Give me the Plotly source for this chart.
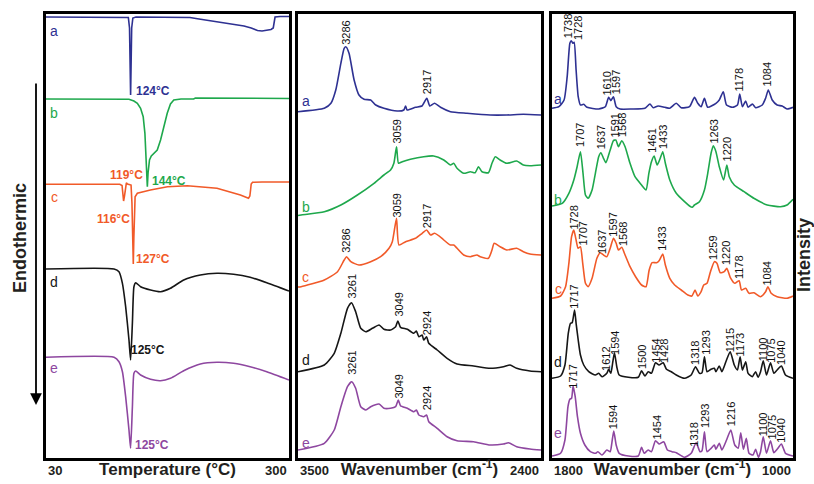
import plotly.graph_objects as go

FONT = "Liberation Sans, Arial, Helvetica, sans-serif"
W, H = 814, 484

# colours of the five samples a-e
col_a, col_b, col_c, col_d, col_e = "#2e3192", "#1ea84c", "#f15a29", "#161616", "#8e47a0"

# ---------------- DSC (temperature, stacked heat flow, arbitrary units) ----------------
dsc_a_T = [30, 110, 121.5, 122.8, 123.6, 124, 124.4, 125.2, 126.5, 130, 160, 190, 200, 215, 235, 250, 258, 265, 270, 275, 280, 282.5, 283.5, 284.5, 290, 300]
dsc_a_y = [441, 441, 440.5, 430, 385, 363, 385, 430, 440, 441, 441, 440.5, 439, 437, 434.5, 432, 430, 427.5, 427, 427.5, 428.5, 430, 436, 441, 441.5, 441.5]

dsc_b_T = [30, 122.2, 127.7, 131.5, 135.1, 138, 139.9, 141.4, 142.6, 143.4, 145, 147, 150, 153.6, 157.3, 160.9, 164.7, 168.3, 172, 180, 194, 196, 300]
dsc_b_y = [359, 358.7, 357, 354.7, 349.7, 341.3, 324.7, 301.3, 271.3, 285, 298, 302, 305, 308, 318, 331.3, 344.7, 354, 358, 359, 359, 360, 359.5]

dsc_c_T = [30, 112, 114.5, 115.3, 116.2, 117.2, 118.3, 119.3, 120.5, 122.5, 124.5, 125.5, 126.3, 127, 127.6, 128.3, 129, 131.5, 146, 165, 187, 220, 246, 255, 256.5, 257.3, 258, 259.5, 270, 300]
dsc_c_y = [273.7, 273.7, 272.5, 266, 257, 262, 271, 275.2, 274, 273.7, 273, 255, 220, 194, 220, 250, 261.3, 264.7, 268, 271.3, 272.3, 269.7, 263, 259.7, 262, 268, 274, 275.7, 276, 276]

dsc_de_T = [30, 105.6, 111.1, 114.9, 118.5, 122.2, 124, 126, 127.7, 129.6, 135.1, 146.2, 157.3, 168.3, 183, 201.5, 220, 238.4, 256.8, 275.3, 300]
dsc_d_y = [189, 189, 186.3, 174.7, 151.3, 118, 98, 135, 171.3, 175.3, 171.3, 168, 166.3, 169.7, 178, 183, 184.7, 183.7, 180.7, 175.3, 167]
dsc_e_y = [100.7, 100.7, 96.3, 86.3, 61.3, 28, 9.7, 51.3, 84.7, 87, 83, 78.7, 77.3, 79.7, 87.3, 94, 95.7, 94.7, 91.3, 86.3, 78]

# ---------------- FTIR 3500-2400 cm-1 ----------------
ir1_a_wn = [3500, 3381, 3351, 3329, 3306, 3291, 3283, 3269, 3246, 3224, 3201, 3171, 3148, 3111, 3051, 3021, 3013, 3006, 2968, 2939, 2917, 2903, 2882, 2855, 2810, 2735, 2630, 2555, 2480, 2400]
ir1_a_y = [346.3, 349.7, 354.7, 368, 394.7, 409.7, 411.3, 404.7, 378, 363, 358.7, 358, 353, 349.7, 347, 348, 352, 348, 350.7, 352, 359.7, 352, 354.7, 350.7, 346.3, 344.7, 343, 343, 343.7, 343]

ir1_b_wn = [3500, 3486, 3381, 3306, 3231, 3156, 3111, 3081, 3066, 3054, 3045, 3028, 2991, 2931, 2886, 2840, 2810, 2795, 2780, 2750, 2720, 2698, 2683, 2667, 2638, 2622, 2607, 2585, 2555, 2510, 2480, 2450, 2400]
ir1_b_y = [242.5, 243, 246.3, 253, 263, 274.7, 283, 288, 294.7, 311.3, 294.7, 296.3, 298.7, 301.3, 302, 298, 293, 294.7, 289.7, 284.7, 286.3, 285.3, 291.3, 286.3, 285.3, 294.7, 301.3, 298, 294.7, 297, 293, 292.3, 293]

ir1_c_wn = [3500, 3486, 3381, 3321, 3291, 3280, 3261, 3224, 3171, 3126, 3088, 3073, 3066, 3054, 3043, 3013, 2968, 2938, 2918, 2900, 2882, 2848, 2840, 2810, 2795, 2780, 2750, 2720, 2690, 2675, 2638, 2622, 2612, 2585, 2555, 2510, 2480, 2450, 2400]
ir1_c_y = [171, 171.3, 178, 186.3, 198, 201.3, 196.3, 193, 196.3, 201.3, 209.7, 216.3, 224.7, 239.7, 213, 216.3, 219.7, 224.7, 228, 223, 224.7, 219.7, 218, 213, 213, 209.7, 203, 201.3, 203, 201.3, 199.7, 208, 214.7, 211.3, 208, 209.7, 206.3, 204, 203]

ir1_d_wn = [3500, 3381, 3336, 3306, 3276, 3258, 3239, 3216, 3193, 3163, 3133, 3111, 3081, 3058, 3048, 3036, 3005, 2976, 2964, 2953, 2938, 2931, 2918, 2908, 2870, 2825, 2780, 2705, 2630, 2570, 2540, 2510, 2450, 2400]
ir1_d_y = [86.3, 93, 104.7, 124.7, 149.7, 155.3, 146.3, 129.7, 126.3, 129.7, 133, 128.7, 128, 131.3, 137, 130.7, 128.7, 124.7, 127, 121.3, 123, 118, 121.3, 114.7, 108, 99.7, 94, 92, 89.7, 91.3, 93, 89.7, 87, 86.3]

ir1_e_wn = [3500, 3381, 3336, 3306, 3276, 3257, 3239, 3216, 3193, 3171, 3133, 3111, 3081, 3058, 3046, 3036, 3005, 2976, 2964, 2953, 2931, 2918, 2908, 2870, 2825, 2780, 2705, 2630, 2570, 2547, 2510, 2450, 2400]
ir1_e_y = [8, 14.7, 28, 51.3, 71.3, 76.3, 69.7, 51.3, 48, 51.3, 54, 49.7, 49.7, 51.3, 58, 52.3, 49.7, 46.3, 48, 43, 41.3, 43, 36.3, 29.7, 21.3, 17.3, 16.3, 13, 14, 15.3, 11.3, 9, 8]

# ---------------- FTIR 1800-1000 cm-1 ----------------
ir2_a_wn = [1800, 1777, 1760, 1749.6, 1740.7, 1736, 1731, 1726.5, 1720, 1713, 1705.6, 1694.7, 1683.8, 1645, 1623, 1612, 1604.7, 1596, 1587, 1574, 1535.6, 1491.6, 1475, 1464, 1447.8, 1425.7, 1409, 1387.5, 1371, 1343.4, 1327, 1316, 1305, 1294, 1283, 1255.8, 1244.7, 1231.5, 1220.6, 1200.9, 1184.4, 1176.8, 1168, 1157, 1149, 1135, 1124, 1102, 1091, 1082, 1069, 1052.7, 1036, 1019.8, 1000]
ir2_a_y = [349.7, 351.3, 358, 381.3, 414.7, 417.3, 414.7, 415.7, 388, 361.3, 353, 353.7, 350.7, 349, 351.3, 360.7, 357.3, 361.3, 351.3, 349, 349, 349.7, 354, 350.3, 352, 350.7, 349.7, 354.7, 350.3, 351.3, 360.7, 354.7, 351.3, 359.7, 350.7, 354.7, 358, 366.3, 353, 350.7, 353, 364, 351.3, 357, 350.7, 354, 350.3, 353, 359.7, 368, 358, 353, 352, 349, 350.7]

ir2_b_wn = [1800, 1766, 1744, 1727.6, 1716.6, 1705.6, 1697, 1689, 1680, 1667, 1656, 1645, 1637.7, 1629, 1621, 1606.8, 1596, 1588, 1579.4, 1568.5, 1557.4, 1541, 1524.5, 1502.7, 1488, 1478.5, 1469.8, 1461, 1451, 1442, 1432.3, 1423.7, 1409, 1387.5, 1360, 1343.4, 1334.8, 1327, 1310.5, 1294, 1283, 1272, 1264.4, 1255.8, 1244.7, 1230.5, 1219.6, 1211.7, 1195, 1162.4, 1130, 1085.6, 1041.8, 1019.8, 1000]
ir2_b_y = [252, 254.7, 264.7, 278, 291.3, 306.3, 284.7, 263, 259.7, 268, 284.7, 301.3, 305.3, 299.7, 295.3, 308, 317.3, 318, 311.3, 317.3, 311.3, 294.7, 281.3, 273, 268, 284.7, 296.3, 302, 293, 298.7, 306.3, 294.7, 278, 264.7, 256.3, 252, 250.7, 253, 256.3, 268, 284.7, 304.7, 312.3, 306.3, 291.3, 278, 293, 281.3, 273, 266.3, 259.7, 253, 251.3, 253, 258.7]

ir2_c_wn = [1800, 1771.5, 1755, 1744, 1735, 1727.6, 1720, 1713.4, 1705.6, 1698, 1689, 1680, 1667, 1651, 1640, 1629, 1618, 1606.8, 1596, 1587, 1579.4, 1568.5, 1557.4, 1541, 1522.5, 1502.7, 1488, 1477.4, 1467.5, 1453, 1444.5, 1432.3, 1423.7, 1409, 1392.8, 1371, 1349, 1335.8, 1325, 1316, 1305, 1296.3, 1285.4, 1274, 1261, 1252.5, 1241.4, 1228.2, 1219.6, 1208.4, 1193.3, 1178.8, 1171, 1157, 1146, 1129.5, 1107.7, 1091, 1083.3, 1072.5, 1052.7, 1019.8, 1000]
ir2_c_y = [159.7, 162, 171.3, 194.7, 221.3, 228, 218, 209.7, 211.3, 194.7, 174.7, 171.3, 179.7, 199.7, 205.3, 203, 201.3, 209.7, 219.7, 214.7, 208, 210.7, 203, 191.3, 181.3, 173, 171.3, 188, 195.3, 195.3, 197.3, 204, 193, 179.7, 173, 168, 163, 162, 168, 162, 166.3, 173, 174.7, 186.3, 196.3, 194.7, 185.3, 186.3, 189.7, 180.7, 174.7, 177.3, 168, 169.7, 164.7, 165.3, 161.3, 166.3, 171.3, 164.7, 161.3, 159.7, 162]

ir2_d_wn = [1800, 1771.5, 1757, 1746, 1738.5, 1733, 1725, 1720, 1713, 1705.6, 1694.7, 1678, 1656, 1645, 1634, 1618, 1612, 1604.7, 1598, 1592.6, 1585, 1577, 1546.5, 1513.6, 1502.7, 1491.6, 1480.7, 1469.8, 1456.5, 1444.5, 1431, 1420, 1404, 1387.5, 1360, 1338, 1323.6, 1310.5, 1302, 1294, 1285.4, 1272, 1261, 1255.8, 1244.7, 1236, 1222.8, 1208.4, 1195, 1184.4, 1175.5, 1168, 1157, 1149, 1135, 1124, 1116, 1107.7, 1098.8, 1088, 1074.7, 1063.6, 1052.7, 1038.5, 1025, 1000]
ir2_d_y = [79.7, 82, 93, 124.7, 134.7, 135.3, 148, 134.7, 118, 103, 93, 86.3, 83, 84.7, 81.3, 84.7, 88.7, 84.7, 96.3, 105.3, 91.3, 83, 80.7, 80.7, 87.3, 82, 86.3, 84.7, 95.3, 93, 95.3, 88.7, 86.3, 83, 79.7, 83, 91.3, 84.7, 85.3, 101.3, 86.3, 88.7, 89.7, 86.3, 92, 86.3, 96.3, 106.3, 93, 88, 101.3, 88, 96.3, 84.7, 81.3, 86.3, 80.7, 86.3, 97.3, 83, 95.3, 84.7, 88, 92, 83, 79.7]

ir2_e_wn = [1800, 1771.5, 1757, 1747, 1740.7, 1735, 1730, 1723, 1715.5, 1705.6, 1691, 1672.6, 1656, 1647.6, 1634, 1618, 1606.8, 1601.5, 1595, 1587, 1577, 1546.5, 1513.6, 1502.7, 1494, 1480.7, 1469.8, 1456.5, 1444.5, 1429, 1417, 1401.7, 1387.5, 1360, 1338, 1321.6, 1308.5, 1302, 1294, 1285.4, 1272, 1261, 1255.8, 1244.7, 1236, 1220.6, 1206.5, 1193.3, 1182, 1173.4, 1164.6, 1155, 1146, 1132.8, 1124, 1115, 1107.7, 1098.8, 1088, 1074.7, 1063.6, 1052.7, 1038.5, 1025, 1000]
ir2_e_y = [2, 4.7, 18, 51.3, 58.7, 59.7, 72, 61.3, 41.3, 24.7, 13, 6.3, 4.7, 6.3, 3, 8, 6.3, 14.7, 27, 13, 4.7, 2, 2, 10.7, 4.7, 8, 6.3, 17.3, 14, 16.3, 8, 6.3, 5.3, 0.7, 4.7, 15.3, 6.3, 7.3, 26.3, 6.3, 9.7, 13, 8.7, 14.7, 8, 18, 28, 13, 9.7, 25.3, 8.7, 19.7, 4.7, 3, 8.7, 0.7, 6.3, 21.3, 4.7, 17.3, 5.3, 8.7, 14, 4.7, 2]

# ---------------- labels ----------------
dsc_peak_text = ["124°C", "144°C", "119°C", "116°C", "127°C", "125°C", "125°C"]
dsc_peak_T = [149.2, 167.2, 119.6, 105.2, 149, 143.4, 148.1]
dsc_peak_y = [367.5, 277.5, 283, 239.5, 199, 108, 13]
dsc_peak_col = [col_a, col_b, col_c, col_c, col_c, col_d, col_e]

ir1_lab_text = ["3286", "2917", "3059", "3286", "3059", "2917", "3261", "3049", "2924", "3261", "3049", "2924"]
ir1_lab_wn = [3283.6, 2915.3, 3053.7, 3283.6, 3053.7, 2915.3, 3256.6, 3044.7, 2915.3, 3256.6, 3044.7, 2915.3]
ir1_lab_y = [425, 376, 326, 217, 252, 242, 171.3, 153, 135, 95, 71, 60]

ir2_lab_text = ["1738", "1728", "1610", "1597", "1178", "1084",
                "1707", "1637", "1591", "1568", "1461", "1433", "1263", "1220",
                "1728", "1707", "1637", "1597", "1568", "1433", "1259", "1220", "1178", "1084",
                "1717", "1612", "1594", "1500", "1454", "1428", "1318", "1293", "1215", "1173", "1100", "1075", "1040",
                "1717", "1594", "1454", "1318", "1293", "1216", "1100", "1075", "1040"]
ir2_lab_wn = [1746.3, 1713.4, 1619, 1589.3, 1180.5, 1085.6,
              1706.8, 1638, 1591.6, 1567.3, 1468.5, 1433.6, 1262.8, 1218.3,
              1729.9, 1698.6, 1636, 1595.9, 1564.6, 1433, 1263.4, 1220, 1180.5, 1085.6,
              1726.6, 1621.6, 1592.6, 1502.7, 1455, 1427.4, 1327, 1291.4, 1210.7, 1175.2, 1099.5, 1073.1, 1041.8,
              1730.3, 1598.6, 1451.7, 1327, 1291.4, 1205.8, 1099.5, 1069.8, 1040.2]
ir2_lab_y = [432, 430, 374, 376.3, 378, 383.8,
             323, 320.5, 332.2, 333, 317.2, 321.3, 326.3, 308.8,
             240.5, 224, 216.3, 233.8, 223.8, 218.8, 209.7, 204.7, 190.5, 184.7,
             161.3, 98.8, 115.5, 100.5, 107.2, 107.2, 105.5, 115.5, 117.2, 113.8, 108.8, 107.2, 105.5,
             81.3, 40.5, 30.5, 23.8, 42.2, 43.8, 33.8, 30.5, 27.2]

letters = ["a", "b", "c", "d", "e"]
letter_cols = [col_a, col_b, col_c, col_d, col_e]
letter_y_dsc = [427, 345, 261, 176, 90]
letter_y_ir1 = [357, 251, 181, 98, 15]
letter_y_ir2 = [359, 258, 169, 96, 25]

# ---------------- figure ----------------
for xs, ys in [(dsc_a_T, dsc_a_y), (dsc_b_T, dsc_b_y), (dsc_c_T, dsc_c_y), (dsc_de_T, dsc_d_y), (dsc_de_T, dsc_e_y),
               (ir1_a_wn, ir1_a_y), (ir1_b_wn, ir1_b_y), (ir1_c_wn, ir1_c_y), (ir1_d_wn, ir1_d_y), (ir1_e_wn, ir1_e_y),
               (ir2_a_wn, ir2_a_y), (ir2_b_wn, ir2_b_y), (ir2_c_wn, ir2_c_y), (ir2_d_wn, ir2_d_y), (ir2_e_wn, ir2_e_y)]:
    assert len(xs) == len(ys), (len(xs), len(ys))

fig = go.Figure()
LW = 1.6

def add(x, y, col, ax, shape="spline"):
    fig.add_trace(go.Scatter(x=x, y=y, mode="lines", xaxis="x" + ax, yaxis="y" + ax,
                             line=dict(color=col, width=LW, shape=shape, smoothing=0.55),
                             hoverinfo="skip", showlegend=False))

add(dsc_a_T, dsc_a_y, col_a, "", "linear")
add(dsc_b_T, dsc_b_y, col_b, "", "linear")
add(dsc_c_T, dsc_c_y, col_c, "", "linear")
add(dsc_de_T, dsc_d_y, col_d, "")
add(dsc_de_T, dsc_e_y, col_e, "")
for (x, y), c in zip([(ir1_a_wn, ir1_a_y), (ir1_b_wn, ir1_b_y), (ir1_c_wn, ir1_c_y), (ir1_d_wn, ir1_d_y), (ir1_e_wn, ir1_e_y)], letter_cols):
    add(x, y, c, "2")
for (x, y), c in zip([(ir2_a_wn, ir2_a_y), (ir2_b_wn, ir2_b_y), (ir2_c_wn, ir2_c_y), (ir2_d_wn, ir2_d_y), (ir2_e_wn, ir2_e_y)], letter_cols):
    add(x, y, c, "3")

X_DOM = [[46 / W, 289 / W], [298 / W, 541 / W], [552 / W, 793 / W]]
Y_DOM = [1 - 458 / H, 1 - 14 / H]
X_RNG = [[30, 300], [3500, 2400], [1800, 1000]]
TXT = "#231f20"
titles = ["<b>Temperature (°C)</b>", "<b>Wavenumber (cm<sup>-1</sup>)</b>", "<b>Wavenumber (cm<sup>-1</sup>)</b>"]

layout = dict(width=W, height=H, margin=dict(l=0, r=0, t=0, b=0),
              paper_bgcolor="white", plot_bgcolor="white",
              font=dict(family=FONT, color=TXT), showlegend=False)
for i in range(3):
    s = "" if i == 0 else str(i + 1)
    layout["xaxis" + s] = dict(domain=X_DOM[i], range=X_RNG[i], anchor="y" + s,
                               showline=True, mirror=True, linewidth=3, linecolor="black",
                               showticklabels=False, ticks="", showgrid=False, zeroline=False,
                               title=dict(text=titles[i], font=dict(size=17, family=FONT, color=TXT), standoff=4))
    layout["yaxis" + s] = dict(domain=Y_DOM, range=[0, 444], anchor="x" + s,
                               showline=True, mirror=True, linewidth=3, linecolor="black",
                               showticklabels=False, ticks="", showgrid=False, zeroline=False)
fig.update_layout(**layout)

ann = []
# corner tick labels
tick_y = 1 - 470 / H
for i, (lo, hi) in enumerate(X_RNG):
    s = "x" if i == 0 else "x" + str(i + 1)
    ann.append(dict(text="<b>%g</b>" % lo, x=lo, xref=s, y=tick_y, yref="paper", xanchor="left", yanchor="middle",
                    showarrow=False, font=dict(size=13, color=TXT)))
    ann.append(dict(text="<b>%g</b>" % hi, x=hi, xref=s, y=tick_y, yref="paper", xanchor="right", yanchor="middle",
                    showarrow=False, font=dict(size=13, color=TXT)))

# DSC temperature labels
for t, xv, yv, c in zip(dsc_peak_text, dsc_peak_T, dsc_peak_y, dsc_peak_col):
    ann.append(dict(text="<b>%s</b>" % t, x=xv, y=yv, xref="x", yref="y", showarrow=False,
                    font=dict(size=12, color=c), xanchor="center", yanchor="middle"))
# FTIR peak labels
for t, xv, yv in zip(ir1_lab_text, ir1_lab_wn, ir1_lab_y):
    ann.append(dict(text=t, x=xv, y=yv, xref="x2", yref="y2", showarrow=False, textangle=-90,
                    font=dict(size=11, color="#111111"), xanchor="center", yanchor="middle"))
for t, xv, yv in zip(ir2_lab_text, ir2_lab_wn, ir2_lab_y):
    ann.append(dict(text=t, x=xv, y=yv, xref="x3", yref="y3", showarrow=False, textangle=-90,
                    font=dict(size=11, color="#111111"), xanchor="center", yanchor="middle"))
# sample letters
for lt, c, y1, y2, y3 in zip(letters, letter_cols, letter_y_dsc, letter_y_ir1, letter_y_ir2):
    ann.append(dict(text=lt, x=38.9, y=y1, xref="x", yref="y", showarrow=False, font=dict(size=14, color=c)))
    ann.append(dict(text=lt, x=3464, y=y2, xref="x2", yref="y2", showarrow=False, font=dict(size=14, color=c)))
    ann.append(dict(text=lt, x=1780, y=y3, xref="x3", yref="y3", showarrow=False, font=dict(size=14, color=c)))

# side titles and arrow
ann.append(dict(text="<b>Endothermic</b>", x=20 / W, y=1 - 238 / H, xref="paper", yref="paper", showarrow=False,
                xanchor="center", yanchor="middle", textangle=-90, font=dict(size=18, color=TXT)))
ann.append(dict(text="<b>Intensity</b>", x=804 / W, y=1 - 255 / H, xref="paper", yref="paper", showarrow=False,
                xanchor="center", yanchor="middle", textangle=-90, font=dict(size=18, color=TXT)))
ann.append(dict(text="", x=36 / W, y=1 - 405 / H, xref="paper", yref="paper", showarrow=True,
                ax=0, ay=-323, arrowhead=2, arrowsize=1.3, arrowwidth=1.8, arrowcolor="black"))
fig.update_layout(annotations=ann)

fig.write_html("out.html", config={"displayModeBar": False},
               post_script="document.body.style.margin='0';document.body.style.overflow='hidden';")
